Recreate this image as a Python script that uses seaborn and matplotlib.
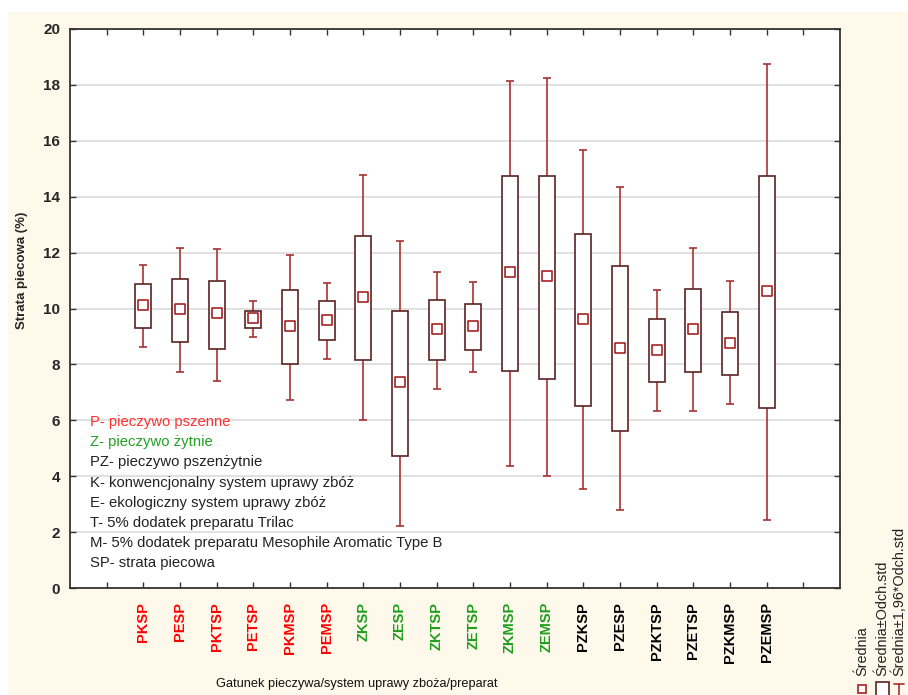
import numpy as np
import pandas as pd
import matplotlib
matplotlib.use("Agg")
import matplotlib.pyplot as plt
from matplotlib.patches import Rectangle
from matplotlib.lines import Line2D
import seaborn as sns

categories = ["PKSP", "PESP", "PKTSP", "PETSP", "PKMSP", "PEMSP",
              "ZKSP", "ZESP", "ZKTSP", "ZETSP", "ZKMSP", "ZEMSP",
              "PZKSP", "PZESP", "PZKTSP", "PZETSP", "PZKMSP", "PZEMSP"]
means = [10.11, 9.97, 9.83, 9.67, 9.37, 9.58,
         10.42, 7.37, 9.27, 9.37, 11.32, 11.16,
         9.62, 8.58, 8.53, 9.27, 8.77, 10.63]
box_low = [9.30, 8.81, 8.56, 9.30, 8.00, 8.87,
           8.16, 4.73, 8.16, 8.52, 7.78, 7.47,
           6.52, 5.62, 7.37, 7.72, 7.62, 6.43]
box_high = [10.88, 11.07, 10.97, 9.92, 10.66, 10.26,
            12.60, 9.91, 10.32, 10.16, 14.75, 14.75,
            12.67, 11.51, 9.62, 10.71, 9.86, 14.75]
whisk_low = [8.62, 7.72, 7.42, 8.97, 6.72, 8.18,
             6.02, 2.23, 7.12, 7.73, 4.38, 4.02,
             3.54, 2.78, 6.32, 6.33, 6.57, 2.42]
whisk_high = [11.57, 12.18, 12.12, 10.27, 11.91, 10.91,
              14.76, 12.41, 11.31, 10.95, 18.15, 18.26,
              15.66, 14.36, 10.66, 12.16, 10.97, 18.76]
label_colors = ["#FF0000"] * 6 + ["#1E9E1E"] * 6 + ["#000000"] * 6
y_ticks = [0, 2, 4, 6, 8, 10, 12, 14, 16, 18, 20]

notes = ["P- pieczywo pszenne", "Z- pieczywo żytnie", "PZ- pieczywo pszenżytnie",
         "K- konwencjonalny system uprawy zbóż", "E- ekologiczny system uprawy zbóż",
         "T- 5% dodatek preparatu Trilac",
         "M- 5% dodatek preparatu Mesophile Aromatic Type B", "SP- strata piecowa"]
note_colors = ["#FF3030", "#22A022"] + ["#222222"] * 6

legend_labels = ["Średnia", "Średnia±Odch.std", "Średnia±1,96*Odch.std"]

df = pd.DataFrame({"cat": categories, "mean": means, "blo": box_low, "bhi": box_high,
                   "wlo": whisk_low, "whi": whisk_high})

sns.set_style("white")
plt.rcParams["font.family"] = ["Liberation Sans", "DejaVu Sans"]

W, H = 908, 695
fig = plt.figure(figsize=(W / 100, H / 100), dpi=100, facecolor="white")
cream = "#FFF9EC"
fig.add_artist(Rectangle((8 / W, 0), 1 - 8 / W, (H - 12) / H, transform=fig.transFigure,
                         facecolor=cream, edgecolor="none", zorder=-10))

ax = fig.add_axes([70 / W, 1 - 588 / H, 770 / W, 559 / H])
ax.set_facecolor("white")

whisk_color = "#A83232"
box_color = "#5A2323"
mean_color = "#A52222"

m = np.array(means)
ax.errorbar(df["cat"], m, yerr=[m - np.array(whisk_low), np.array(whisk_high) - m],
            fmt="none", ecolor=whisk_color, elinewidth=1.2, capsize=3.0, capthick=1.2, zorder=2)
ax.bar(df["cat"], np.array(box_high) - np.array(box_low), bottom=box_low, width=0.44,
       facecolor="white", edgecolor=box_color, linewidth=1.2, zorder=3)
sns.scatterplot(data=df, x="cat", y="mean", marker="s", s=42, facecolor="white",
                edgecolor=mean_color, linewidth=1.2, zorder=4, ax=ax)

ax.set_xlim(-2, 19)
ax.set_ylim(0, 20)
ax.set_yticks(y_ticks)
ax.set_yticklabels([str(v) for v in y_ticks], fontsize=11, fontweight="bold")
ax.set_xticks(range(-1, 19))
ax.set_xticklabels([""] + categories + [""], rotation=90, fontsize=10.5, fontweight="bold")
for lbl, c in zip(ax.get_xticklabels()[1:-1], label_colors):
    lbl.set_color(c)
ax.tick_params(axis="both", direction="in", length=4, width=1, color="#333333",
               top=True, right=True, bottom=True, left=True)
ax.tick_params(axis="y", pad=7)
ax.tick_params(axis="x", pad=10)
ax.grid(axis="y", color="#DCDCDC", linewidth=1.2)
ax.set_axisbelow(True)
for s in ax.spines.values():
    s.set_color("#333333")
    s.set_linewidth(1.3)
ax.set_xlabel("")
ax.set_ylabel("")

fig.text(22 / W, 1 - 270 / H, "Strata piecowa (%)", rotation=90, ha="center", va="center",
         fontsize=9.5, fontweight="bold")
fig.text(357 / W, 1 - 684 / H, "Gatunek pieczywa/system uprawy zboża/preparat",
         ha="center", va="center", fontsize=9.2, color="#111111")

for i, (t, c) in enumerate(zip(notes, note_colors)):
    ax.text(90 / W, 1 - (422 + i * 20.2) / H, t, transform=fig.transFigure,
            ha="left", va="center", fontsize=10.7, color=c, zorder=1)

# legend (rotated)
leg_x = [862, 882, 899]
for x, t in zip(leg_x, legend_labels):
    fig.text(x / W, 1 - 676 / H, t, rotation=90, ha="center", va="bottom",
             fontsize=10.4, color="#222222")
fig.add_artist(Rectangle((858 / W, 1 - 693 / H), 8 / W, 8 / H, transform=fig.transFigure,
                         facecolor="white", edgecolor=mean_color, linewidth=1.2))
fig.add_artist(Rectangle((876 / W, 1 - 697 / H), 13 / W, 15 / H, transform=fig.transFigure,
                         facecolor="white", edgecolor=box_color, linewidth=1.2))
fig.add_artist(Line2D([894 / W, 904 / W], [1 - 684 / H, 1 - 684 / H], transform=fig.transFigure,
                      color=whisk_color, linewidth=1.2))
fig.add_artist(Line2D([899 / W, 899 / W], [1 - 684 / H, 0], transform=fig.transFigure,
                      color=whisk_color, linewidth=1.2))

fig.savefig("out.png", dpi=100, facecolor="white")
